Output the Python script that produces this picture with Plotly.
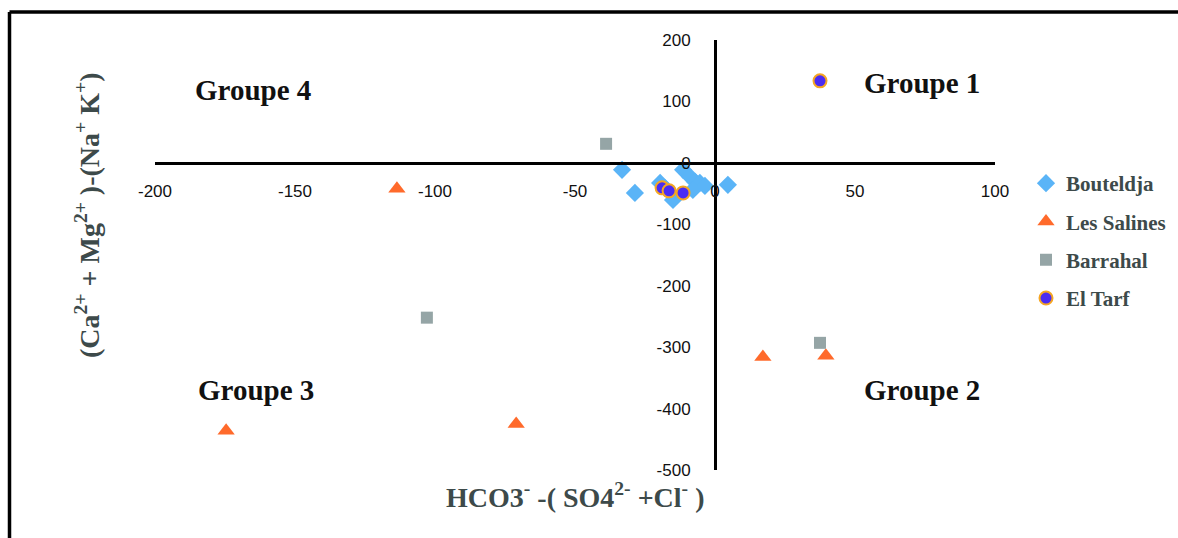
import plotly.graph_objects as go

# ---- data ----
bouteldja_x = [-33.2, -28.6, -19.6, -11.4, -8.9, -7.1, -5.4, -3.6, 4.6, -15.0, -7.9, -17.9]
bouteldja_y = [-11.4, -48.9, -32.6, -11.4, -22.8, -30.9, -32.6, -37.5, -35.8, -60.3, -44.0, -40.7]

salines_x = [-113.6, -174.6, -71.0, 17.1, 39.6]
salines_y = [-42.3, -436.0, -425.0, -316.0, -314.0]

barrahal_x = [-38.9, -102.9, 37.5]
barrahal_y = [31.0, -252.0, -293.0]

eltarf_x = [37.5, -18.9, -16.4, -11.4]
eltarf_y = [133.5, -40.7, -45.6, -48.9]

x_ticks = [-200, -150, -100, -50, 0, 50, 100]
x_tick_labels = ["-200", "-150", "-100", "-50", "0", "50", "100"]
y_ticks = [-500, -400, -300, -200, -100, 0, 100, 200]
y_tick_labels = ["-500", "-400", "-300", "-200", "-100", "0", "100", "200"]

x_range = [-200, 100]
y_range = [-500, 200]

groups = [
    ("Groupe 4", -165, 119),
    ("Groupe 1", 74, 130),
    ("Groupe 3", -164, -370),
    ("Groupe 2", 74, -370),
]

fig = go.Figure()

fig.add_trace(go.Scatter(x=bouteldja_x, y=bouteldja_y, mode="markers", name="Bouteldja",
                         legendgroup="a",
                         marker=dict(symbol="diamond", size=14, color="#5AB4F7")))
fig.add_trace(go.Scatter(x=salines_x, y=salines_y, mode="markers", name="Les Salines",
                         legendgroup="b",
                         marker=dict(symbol="triangle-up", size=15, color="#FF6A2B")))
fig.add_trace(go.Scatter(x=barrahal_x, y=barrahal_y, mode="markers", name="Barrahal",
                         legendgroup="c",
                         marker=dict(symbol="square", size=12, color="#95A5A6")))
fig.add_trace(go.Scatter(x=eltarf_x, y=eltarf_y, mode="markers", name="El Tarf",
                         legendgroup="d",
                         marker=dict(symbol="circle", size=13, color="#4B2CF2",
                                     line=dict(color="#F5A623", width=2))))

L, R, T, B = 155, 183, 40, 68
W, H = 1178, 538
pw, ph = W - L - R, H - T - B

x0_frac = (0 - x_range[0]) / (x_range[1] - x_range[0])
y0_frac = (0 - y_range[0]) / (y_range[1] - y_range[0])

tick_font = dict(family="Liberation Sans, Arial, sans-serif", size=17, color="#111111")

fig.update_layout(
    width=W, height=H,
    margin=dict(l=L, r=R, t=T, b=B, autoexpand=False),
    paper_bgcolor="white", plot_bgcolor="white",
    showlegend=True,
    legend=dict(x=(1026 - L) / pw, y=(H - B - 163) / ph, xanchor="left", yanchor="top",
                font=dict(family="Liberation Serif, Times New Roman, serif", size=21,
                          color="#3D4A4A", weight="bold"),
                traceorder="grouped", tracegroupgap=8, itemwidth=30,
                bgcolor="rgba(0,0,0,0)"),
    xaxis=dict(range=x_range, tickvals=x_ticks, ticktext=x_tick_labels,
               showgrid=False, zeroline=False,
               showline=True, linecolor="black", linewidth=3,
               anchor="free", position=y0_frac, ticks="", ticklabelstandoff=12,
               tickfont=tick_font),
    yaxis=dict(range=y_range, tickvals=y_ticks, ticktext=y_tick_labels,
               showgrid=False, zeroline=False,
               showline=True, linecolor="black", linewidth=3,
               anchor="free", position=x0_frac, ticks="", ticklabelstandoff=20,
               tickfont=tick_font),
)

for text, gx, gy in groups:
    fig.add_annotation(x=gx, y=gy, xref="x", yref="y", text=f"<b>{text}</b>", showarrow=False,
                       xanchor="center", yanchor="middle",
                       font=dict(family="Liberation Serif, Times New Roman, serif", size=29,
                                 color="#111111"))

title_font = dict(family="Liberation Serif, Times New Roman, serif", size=28, color="#3D4A4A")
fig.add_annotation(xref="paper", yref="paper", x=0.5, y=(H - B - 495) / ph,
                   xanchor="center", yanchor="middle",
                   text="<b>HCO3<sup>-</sup> -( SO4<sup>2-</sup> +Cl<sup>-</sup> )</b>",
                   showarrow=False, font=title_font)
fig.add_annotation(xref="paper", yref="paper", x=(88 - L) / pw, y=(H - B - 215) / ph,
                   xanchor="center", yanchor="middle",
                   text="<b>(Ca<sup>2+</sup> + Mg<sup>2+</sup> )-(Na<sup>+</sup> K<sup>+</sup>)</b>",
                   showarrow=False, textangle=-90, font=title_font)

# outer frame (top and left edges visible)
fx0 = (9.5 - L) / pw
fy0 = (H - B - 12) / ph
fig.add_shape(type="line", xref="paper", yref="paper", x0=fx0, x1=(W + 5 - L) / pw,
              y0=fy0, y1=fy0, line=dict(color="black", width=3.5))
fig.add_shape(type="line", xref="paper", yref="paper", x0=fx0, x1=fx0,
              y0=fy0, y1=(H - B - H - 5) / ph, line=dict(color="black", width=3.5))

fig.write_html("out.html")
